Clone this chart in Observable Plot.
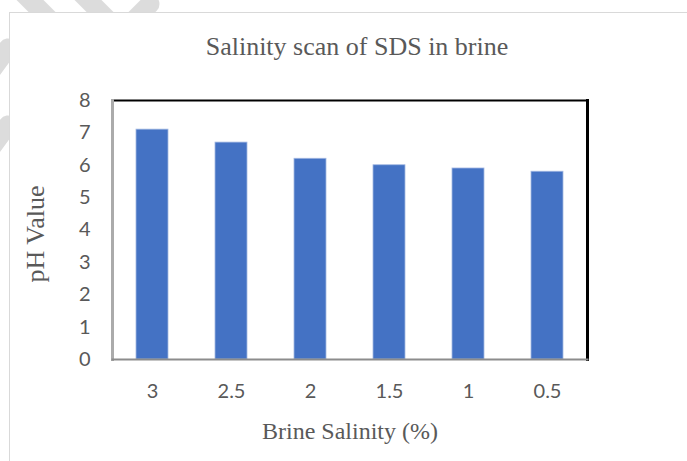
<!DOCTYPE html>
<html>
<head>
<meta charset="utf-8">
<script src="https://cdn.jsdelivr.net/npm/d3@7"></script>
<script src="https://cdn.jsdelivr.net/npm/@observablehq/plot@0.6"></script>
<style>
  html, body { margin: 0; padding: 0; background: #fff; }
  #page { position: relative; width: 687px; height: 461px; overflow: hidden; }
  #wm { position: absolute; left: 0; top: 0; }
  #box { position: absolute; left: 9px; top: 12px; width: 720px; height: 520px;
         background: #fff; border: 1px solid #d9d9d9; box-sizing: border-box; }
  #title { position: absolute; left: 10px; top: 32px; width: 694px; text-align: center;
           font-family: "Liberation Serif", "Times New Roman", serif; font-size: 26px;
           color: #595959; line-height: 30px; }
  #chart { position: absolute; left: 0; top: 74px; }
</style>
</head>
<body>
<div id="page">
  <svg id="wm" width="687" height="461">
    <g stroke="#dcdcdc" stroke-width="19" stroke-linecap="round" fill="none">
      <line x1="18" y1="-12" x2="60" y2="30"/>
      <line x1="76" y1="-12" x2="118" y2="30"/>
      <line x1="150" y1="4" x2="110" y2="44"/>
      <line x1="8" y1="48" x2="-30" y2="100"/>
      <line x1="8" y1="125" x2="-30" y2="177"/>
    </g>
  </svg>
  <div id="box"></div>
  <div id="title">Salinity scan of SDS in brine</div>
  <div id="chart"></div>
</div>
<script>
const salinity = ["3", "2.5", "2", "1.5", "1", "0.5"];
const phValues = [7.1, 6.7, 6.2, 6.0, 5.9, 5.8];
const yTicks = [0, 1, 2, 3, 4, 5, 6, 7, 8];
const xTitle = "Brine Salinity (%)";
const yTitle = "pH Value";

const data = salinity.map((s, i) => ({salinity: s, ph: phValues[i]}));

const chart = Plot.plot({
  width: 687,
  height: 387,
  marginTop: 26,
  marginBottom: 102,
  marginLeft: 112,
  marginRight: 100,
  style: {background: "transparent", fontFamily: "Lato, 'Open Sans', sans-serif", fontSize: "20px", color: "#595959"},
  x: {domain: salinity, paddingInner: 0.6, paddingOuter: 0.3, label: null},
  y: {domain: [0, 8], label: null},
  marks: [
    Plot.barY(data, {x: "salinity", y: "ph", fill: "#4472C4", stroke: "#a3b8e2", strokeWidth: 0.8}),
    Plot.frame({anchor: "top", stroke: "#000", strokeWidth: 2}),
    Plot.frame({anchor: "right", stroke: "#000", strokeWidth: 3}),
    Plot.frame({anchor: "left", stroke: "#ababab", strokeWidth: 3}),
    Plot.frame({anchor: "bottom", stroke: "#8c8c8c", strokeWidth: 2}),
    Plot.axisY({ticks: yTicks, tickSize: 0, tickPadding: 22, tickFormat: d => String(d), label: null, fill: "#595959", fontSize: 20}),
    Plot.axisX({tickSize: 0, tickPadding: 24, label: null, fill: "#595959", fontSize: 20}),
    Plot.text([xTitle], {text: d => d, frameAnchor: "bottom", dy: 72, lineAnchor: "middle", textAnchor: "middle", fontFamily: "Liberation Serif", fontSize: 24, fill: "#595959"}),
    Plot.text([yTitle], {text: d => d, frameAnchor: "left", dx: -77, dy: 4, rotate: -90, lineAnchor: "middle", textAnchor: "middle", fontFamily: "Liberation Serif", fontSize: 26, fill: "#595959"})
  ]
});
document.getElementById("chart").appendChild(chart);
</script>
</body>
</html>
